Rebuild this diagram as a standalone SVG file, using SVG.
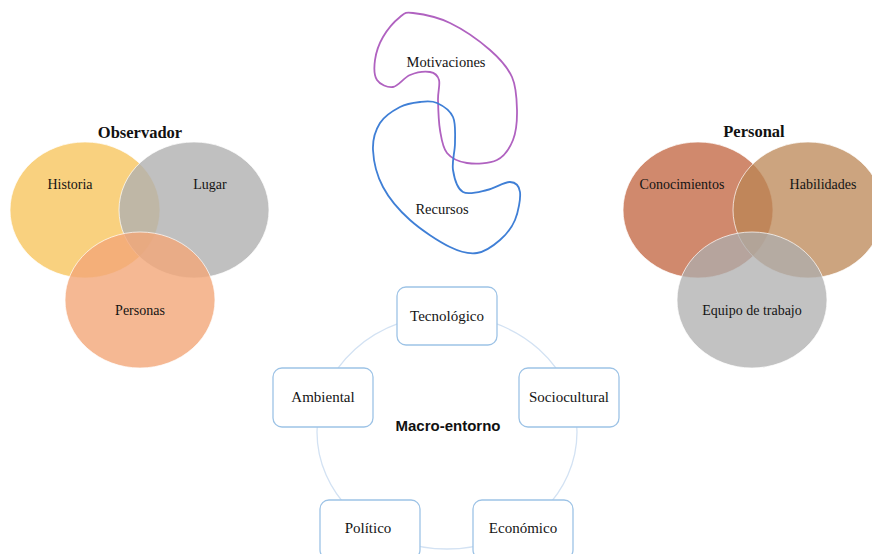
<svg xmlns="http://www.w3.org/2000/svg" width="872" height="554" viewBox="0 0 872 554">
<style>
.lbl{font-family:"Liberation Serif","Times New Roman",serif;font-size:14px;fill:#141414;text-anchor:middle}
.blbl{font-size:15px}
.head{font-family:"Liberation Serif","Times New Roman",serif;font-size:16.5px;font-weight:bold;fill:#111;text-anchor:middle}
.venn{stroke:#ffffff;stroke-width:1;stroke-opacity:0.7}
.box{fill:#ffffff;stroke:#9DC3E6;stroke-width:1.3}
.blob{fill:none;stroke-width:1.8}
</style>
<rect width="872" height="554" fill="#ffffff"/>
<g id="observador">
<text class="head" x="140" y="138">Observador</text>
<g id="historia"><ellipse class="venn" cx="85" cy="210" rx="75" ry="68" fill="#F8C55F" fill-opacity="0.8"/></g>
<g id="lugar"><ellipse class="venn" cx="194" cy="210" rx="75" ry="68" fill="#B0B0B0" fill-opacity="0.8"/></g>
<g id="personas"><ellipse class="venn" cx="140" cy="300" rx="75" ry="68" fill="#F2A678" fill-opacity="0.8"/></g>
<text class="lbl" x="70" y="189">Historia</text>
<text class="lbl" x="210" y="189">Lugar</text>
<text class="lbl" x="140" y="315">Personas</text>
</g>
<g id="personal">
<text class="head" x="754" y="137">Personal</text>
<g id="conocimientos"><ellipse class="venn" cx="698" cy="210" rx="75" ry="68" fill="#C0613C" fill-opacity="0.75"/></g>
<g id="habilidades"><ellipse class="venn" cx="808" cy="210" rx="75" ry="68" fill="#BB8554" fill-opacity="0.75"/></g>
<g id="equipo"><ellipse class="venn" cx="752" cy="300" rx="75" ry="68" fill="#AEAEAE" fill-opacity="0.75"/></g>
<text class="lbl" x="682" y="189">Conocimientos</text>
<text class="lbl" x="823" y="189">Habilidades</text>
<text class="lbl" x="752" y="315">Equipo de trabajo</text>
</g>
<g id="motivaciones">
<path class="blob" stroke="#B062C0" d="M413,13 C421.3,14 437.2,16.8 450,23 C462.8,29.2 479.7,41 490,50 C500.3,59 507.5,67 512,77 C516.5,87 516.8,99.5 517,110 C517.2,120.5 516.3,131.7 513,140 C509.7,148.3 504.7,156.2 497,160 C489.3,163.8 475.3,164.2 467,163 C458.7,161.8 451.5,158.5 447,153 C442.5,147.5 441.5,138.8 440,130 C438.5,121.2 438.2,108.3 438,100 C437.8,91.7 440.3,84.7 439,80 C437.7,75.3 434.8,72.8 430,72 C425.2,71.2 416.2,72.5 410,75 C403.8,77.5 398.5,86.2 393,87 C387.5,87.8 380,84.5 377,80 C374,75.5 374,67.2 375,60 C376,52.8 378.8,44.2 383,37 C387.2,29.8 395,21 400,17 C405,13 404.7,12 413,13 Z"/>
<text class="lbl" x="446" y="67" style="font-size:14.5px">Motivaciones</text>
</g>
<g id="recursos">
<path class="blob" stroke="#3F7FD6" d="M437,103 C442.5,105.5 450,110.3 453,117 C456,123.7 455,134.2 455,143 C455,151.8 451.7,161.8 453,170 C454.3,178.2 457.3,188.7 463,192 C468.7,195.3 479.2,191.7 487,190 C494.8,188.3 504.5,181.7 510,182 C515.5,182.3 519.2,185.7 520,192 C520.8,198.3 518.3,212 515,220 C511.7,228 506.3,234.5 500,240 C493.7,245.5 485.3,251.8 477,253 C468.7,254.2 461.2,252.5 450,247 C438.8,241.5 421.2,230 410,220 C398.8,210 389.2,198.7 383,187 C376.8,175.3 373.5,160.7 373,150 C372.5,139.3 375.5,130.2 380,123 C384.5,115.8 393.3,110.5 400,107 C406.7,103.5 413.8,102.7 420,102 C426.2,101.3 431.5,100.5 437,103 Z"/>
<text class="lbl" x="442" y="214" style="font-size:14.5px">Recursos</text>
</g>
<g id="connectors">
<ellipse cx="447" cy="432" rx="130" ry="117" fill="none" stroke="#D3E2F3" stroke-width="1.3"/>
</g>
<g id="macro-entorno">
<text x="448" y="431" font-family="Liberation Sans, Arial, sans-serif" font-size="15" font-weight="bold" fill="#111" text-anchor="middle">Macro-entorno</text>
</g>
<g id="tecnologico"><rect class="box" x="397" y="287" width="100" height="58" rx="9"/><text class="lbl blbl" x="447" y="321">Tecnológico</text></g>
<g id="sociocultural"><rect class="box" x="519" y="368" width="100" height="59" rx="9"/><text class="lbl blbl" x="569" y="402">Sociocultural</text></g>
<g id="ambiental"><rect class="box" x="273" y="368" width="100" height="59" rx="9"/><text class="lbl blbl" x="323" y="402">Ambiental</text></g>
<g id="politico"><rect class="box" x="320" y="500" width="100" height="59" rx="9"/><text class="lbl blbl" x="368" y="533">Político</text></g>
<g id="economico"><rect class="box" x="473" y="500" width="100" height="59" rx="9"/><text class="lbl blbl" x="523" y="533">Económico</text></g>
</svg>
